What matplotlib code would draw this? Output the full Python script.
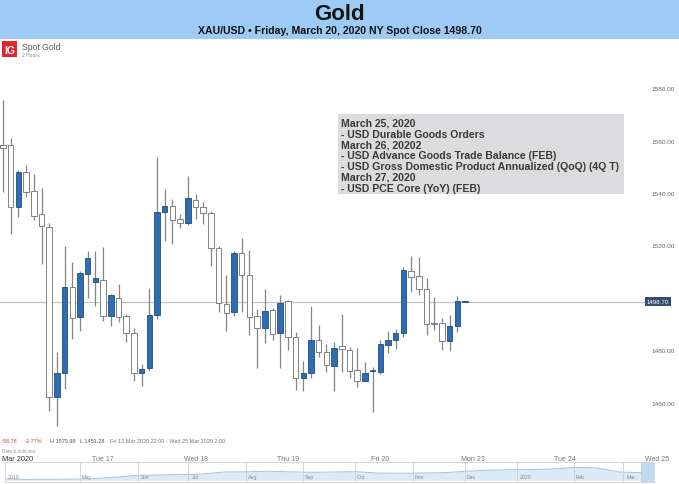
import matplotlib
matplotlib.use("Agg")
import matplotlib.pyplot as plt
import matplotlib.transforms as mtransforms
from matplotlib.patches import Rectangle
import numpy as np

plt.rcParams['font.family'] = ['Liberation Sans', 'DejaVu Sans']

W, H = 679, 485

# 2-hour candles, Fri 13 Mar 2020 22:00 onwards
opens = [1558.5, 1558.4, 1535.0, 1548.1, 1540.9, 1532.2, 1527.4, 1462.2, 1471.6, 1504.4,
         1492.7, 1509.3, 1506.1, 1506.9, 1493.1, 1500.0, 1493.1, 1486.7, 1471.3, 1473.3,
         1493.6, 1532.9, 1535.1, 1530.3, 1528.8, 1537.7, 1534.8, 1532.6, 1519.2, 1497.8,
         1494.6, 1517.3, 1509.0, 1493.1, 1488.8, 1495.5, 1486.6, 1498.8, 1485.1, 1469.6,
         1471.5, 1484.1, 1479.6, 1474.3, 1481.7, 1480.3, 1472.6, 1468.5, 1472.1, 1472.0,
         1482.3, 1484.1, 1486.6, 1510.3, 1508.4, 1503.6, 1490.6, 1490.6, 1483.8, 1489.5,
         1498.7]
highs = [1575.9, 1561.3, 1549.0, 1551.0, 1547.5, 1542.0, 1528.7, 1479.4, 1520.1, 1513.8,
         1510.6, 1518.2, 1518.2, 1519.5, 1501.8, 1505.5, 1494.0, 1488.5, 1474.9, 1503.8,
         1553.9, 1541.8, 1538.0, 1532.2, 1546.6, 1539.9, 1536.7, 1533.5, 1520.1, 1508.9,
         1518.0, 1522.9, 1518.6, 1495.9, 1503.6, 1496.2, 1501.3, 1499.2, 1487.0, 1476.2,
         1497.0, 1489.8, 1482.5, 1483.4, 1494.0, 1481.3, 1481.0, 1475.6, 1473.6, 1484.1,
         1487.4, 1488.3, 1511.9, 1516.3, 1515.6, 1507.8, 1500.6, 1492.4, 1493.7, 1501.0,
         1498.9]
lows = [1540.6, 1524.6, 1531.2, 1538.6, 1529.9, 1513.1, 1457.1, 1451.3, 1465.3, 1484.5,
        1487.6, 1500.1, 1497.2, 1491.2, 1489.5, 1491.0, 1483.2, 1468.5, 1466.6, 1472.3,
        1492.1, 1522.0, 1520.8, 1526.8, 1527.9, 1530.3, 1528.4, 1512.2, 1494.6, 1487.6,
        1493.3, 1494.6, 1486.0, 1473.3, 1482.9, 1483.9, 1473.3, 1480.4, 1465.1, 1464.7,
        1469.6, 1477.4, 1471.7, 1464.7, 1471.7, 1469.6, 1466.2, 1468.3, 1456.6, 1471.1,
        1479.0, 1480.6, 1485.3, 1502.3, 1501.4, 1486.1, 1487.9, 1480.2, 1480.0, 1487.0,
        1498.5]
closes = [1557.5, 1535.0, 1548.4, 1540.8, 1531.6, 1527.5, 1462.2, 1471.3, 1504.4, 1492.4,
          1509.5, 1515.4, 1507.6, 1493.1, 1501.4, 1493.0, 1486.7, 1471.3, 1473.0, 1493.6,
          1532.9, 1535.1, 1529.8, 1528.7, 1538.2, 1534.8, 1532.6, 1519.1, 1498.4, 1494.4,
          1517.3, 1508.9, 1492.7, 1488.8, 1495.3, 1486.4, 1498.2, 1485.1, 1469.6, 1471.5,
          1484.1, 1479.6, 1474.5, 1481.1, 1480.6, 1472.3, 1468.3, 1471.3, 1472.1, 1482.5,
          1484.2, 1486.7, 1510.8, 1508.3, 1503.6, 1490.2, 1490.2, 1483.6, 1489.5, 1498.8,
          1498.7]

last_price = 1498.70
price_ticks = [1580, 1560, 1540, 1520, 1480, 1460]
day_labels = ["Tue 17", "Wed 18", "Thu 19", "Fri 20", "Mon 23", "Tue 24", "Wed 25"]
day_index = [13, 25, 37, 49, 61, 73, 85]

events = ["March 25, 2020",
          "- USD Durable Goods Orders",
          "March 26, 20202",
          "- USD Advance Goods Trade Balance (FEB)",
          "- USD Gross Domestic Product Annualized (QoQ) (4Q T)",
          "March 27, 2020",
          "- USD PCE Core (YoY) (FEB)"]

# navigator (longer history, roughly half-monthly)
nav_prices = [1290, 1278, 1282, 1285, 1300, 1340, 1400, 1410, 1420, 1440, 1500, 1505,
              1525, 1505, 1490, 1500, 1510, 1470, 1462, 1470, 1480, 1520, 1555, 1565,
              1575, 1590, 1640, 1620, 1500, 1480]
nav_months = ["2019", "May", "Jun", "Jul", "Aug", "Sep", "Oct", "Nov", "Dec", "2020", "Feb", "Mar"]


def fx(px):
    return px / W


def fy(py):
    return 1 - py / H


fig = plt.figure(figsize=(W / 100, H / 100), dpi=100)

# header band
fig.patches.append(Rectangle((0, fy(40)), 1, 40 / H, transform=fig.transFigure,
                             facecolor="#9ecbf5", edgecolor="none", zorder=0))
fig.text(0.5, fy(15), "Gold", ha="center", va="center", fontsize=16, fontweight="bold", color="#111111")
fig.text(0.5, fy(31), "XAU/USD \u2022 Friday, March 20, 2020 NY Spot Close 1498.70",
         ha="center", va="center", fontsize=7.6, fontweight="bold", color="#111111")

# IG logo + instrument
fig.patches.append(Rectangle((fx(2), fy(58)), 15 / W, 16 / H, transform=fig.transFigure,
                             facecolor="#e0262b", edgecolor="none"))
fig.text(fx(9.5), fy(50.5), "IG", ha="center", va="center", fontsize=7.5, fontweight="bold", color="white")
fig.text(fx(22), fy(47), "Spot Gold", ha="left", va="center", fontsize=6.2, color="#555555")
fig.text(fx(22), fy(55.5), "2 Hours", ha="left", va="center", fontsize=3.6, color="#888888")

# main price chart
ax_top, ax_bot = 62, 435
ax = fig.add_axes([0, fy(ax_bot), 1, (ax_bot - ax_top) / H])
ax.set_xlim((0 - 3) / 7.7, (W - 3) / 7.7)
ax.set_ylim(1460 - (ax_bot - 404) / 2.617, 1460 + (404 - ax_top) / 2.617)
ax.axis("off")

idx = np.arange(len(opens))
o = np.array(opens)
c = np.array(closes)
up = c >= o
ax.vlines(idx, lows, highs, color="#858585", lw=0.9, zorder=2)
body_bottom = np.minimum(o, c)
body_h = np.maximum(np.abs(c - o), 0.4)
ax.bar(idx[up], body_h[up], bottom=body_bottom[up], width=0.72,
       color="#2f6db3", edgecolor="#1f4c7e", lw=0.6, zorder=3)
ax.bar(idx[~up], body_h[~up], bottom=body_bottom[~up], width=0.72,
       color="white", edgecolor="#6e6e6e", lw=0.6, zorder=3)

ax.axhline(last_price, xmin=0, xmax=646 / W, color="#c4c4c4", lw=0.9, zorder=1)

trans = mtransforms.blended_transform_factory(ax.transAxes, ax.transData)
for v in price_ticks:
    ax.text(663 / W, v, f"{v:.2f}", transform=trans, ha="center", va="center",
            fontsize=4.6, color="#666666")
ax.text(658 / W, last_price, f"{last_price:.2f}", transform=trans, ha="center", va="center",
        fontsize=4.4, color="white",
        bbox=dict(boxstyle="square,pad=0.35", facecolor="#34506f", edgecolor="none"))

# event box
fig.patches.append(Rectangle((fx(338), fy(195)), (624 - 338) / W, (195 - 115) / H,
                             transform=fig.transFigure, facecolor="#dcdcde", edgecolor="none", zorder=1))
for k, line in enumerate(events):
    fig.text(fx(341), fy(124 + k * 10.8), line, ha="left", va="center", fontsize=7.6,
             fontweight="bold", color="#3a3a3a", zorder=2)

# info row
info = [("-58.78", 2, "#d0453f"), ("-3.77%", 25, "#d0453f"), ("H 1575.98", 50, "#555555"),
        ("L 1451.28", 80, "#555555"), ("Fri 13 Mar 2020 22:00 - Wed 25 Mar 2020 2:00", 110, "#777777")]
for txt, px, col in info:
    fig.text(fx(px), fy(442), txt, ha="left", va="center", fontsize=4.0, color=col)
fig.text(fx(2), fy(452), "Date & Indicator", ha="left", va="center", fontsize=3.3, color="#999999")

# day labels
fig.text(fx(2), fy(460), "Mar 2020", ha="left", va="center", fontsize=5.3, color="#333333")
dtrans = mtransforms.blended_transform_factory(ax.transData, fig.transFigure)
for lab, i in zip(day_labels, day_index):
    ax.text(i, fy(460), lab, transform=dtrans, ha="center", va="center",
            fontsize=5.0, color="#777777", clip_on=False)

# navigator
nav = fig.add_axes([fx(5), fy(483), (654 - 5) / W, 20 / H])
nx = np.linspace(0, 636 / 649, len(nav_prices))
nav.fill_between(nx, 1250, nav_prices, color="#dbeaf7", lw=0)
nav.plot(nx, nav_prices, color="#9cc3e6", lw=0.7)
nav.set_xlim(0, 1)
nav.set_ylim(1200, 1800)
nav.axvspan(636 / 649, 1, color="#b9d6f0", alpha=0.9, lw=0)
month_px = [8, 82, 141, 192, 248, 305, 357, 415, 467, 520, 576, 627]
div_px = [80, 138, 188, 246, 303, 355, 413, 465, 517, 574, 623, 641]
for d in div_px:
    nav.axvline((d - 5) / 649, color="#cfcfcf", lw=0.6)
for lab, p in zip(nav_months, month_px):
    nav.text((p - 5) / 649, 0.25, lab, transform=nav.transAxes, ha="left", va="center",
             fontsize=3.8, color="#888888")
nav.set_xticks([])
nav.set_yticks([])
for s in nav.spines.values():
    s.set_color("#d0d0d0")
    s.set_linewidth(0.6)

fig.savefig("out.png", dpi=100)
